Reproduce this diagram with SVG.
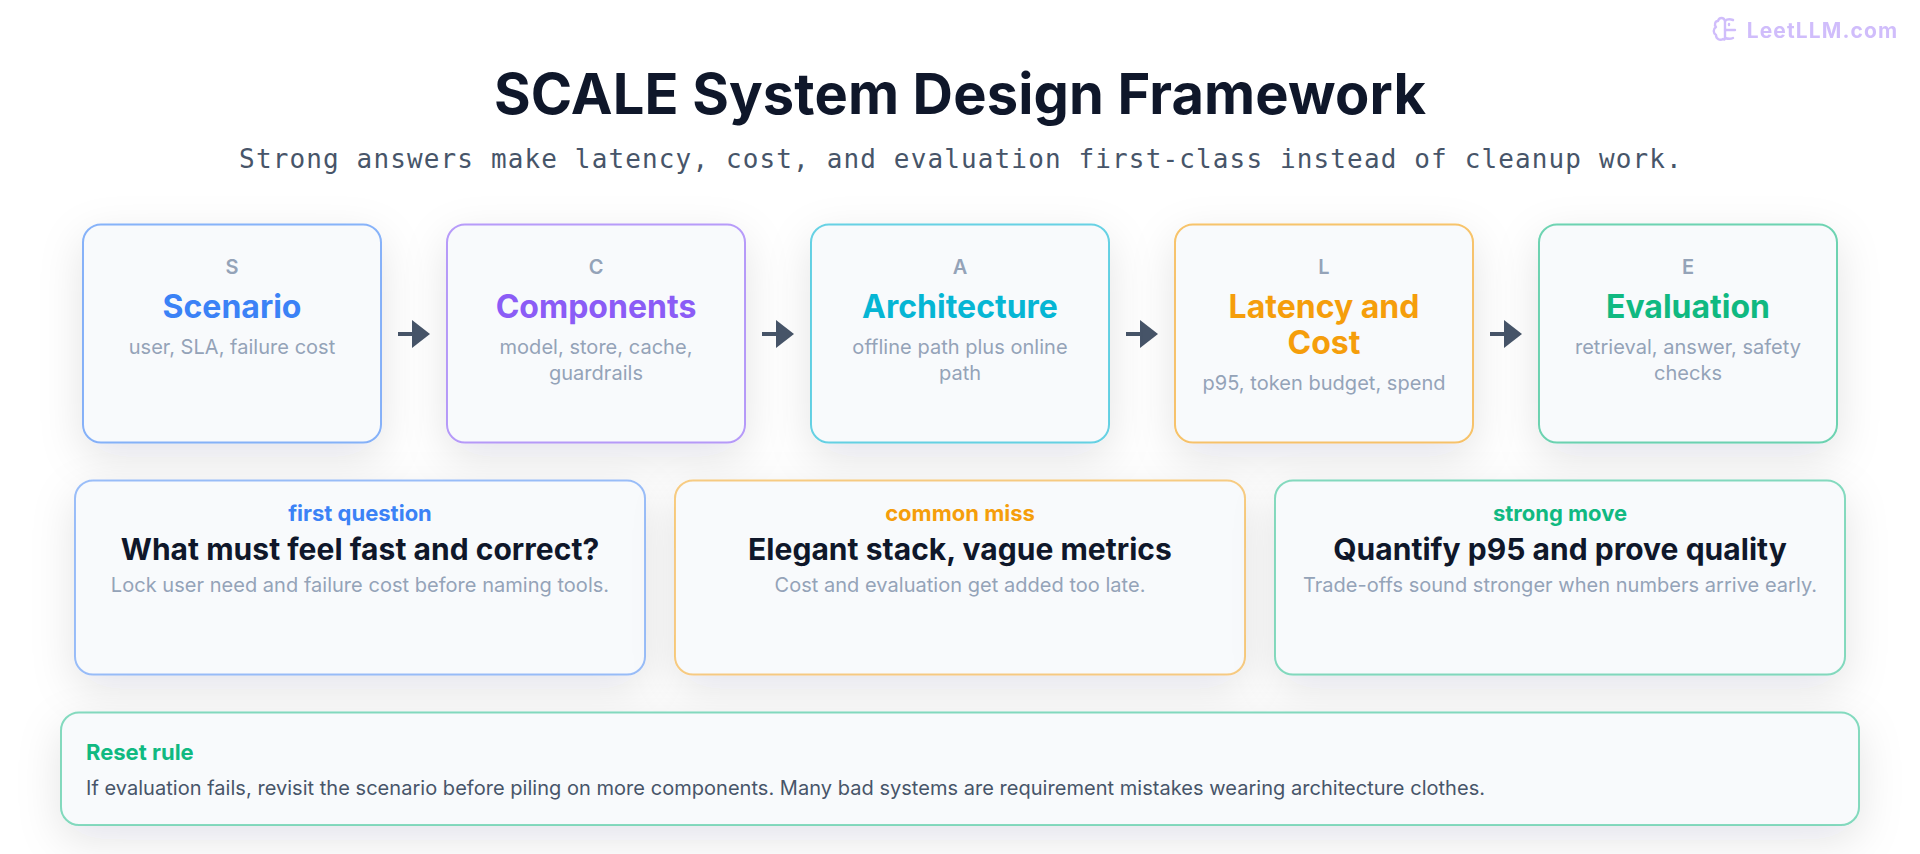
<svg xmlns="http://www.w3.org/2000/svg" width="1920" height="854" viewBox="0 0 1920 854">
<defs>
<filter id="sh" x="-20%" y="-30%" width="140%" height="180%"><feDropShadow dx="0" dy="14" stdDeviation="22" flood-color="#0f172a" flood-opacity="0.11"/></filter>
<marker id="ah" markerUnits="userSpaceOnUse" markerWidth="20" markerHeight="30" refX="0" refY="14" orient="auto"><path d="M0 0L18 14L0 28Z" fill="#475569"/></marker>
</defs>
<style>
text{font-family:Inter,"Noto Sans",sans-serif;text-anchor:middle}
.card{fill:#f8fafc;stroke-width:2;filter:url(#sh)}
.r1{stroke-opacity:.6}
.r2{stroke-opacity:.5}
.let{font-size:20px;font-weight:600;fill:#94a3b8}
.name{font-size:32px;font-weight:700}
.desc{font-size:20px;fill:#94a3b8;letter-spacing:.03px}
.kick{font-size:22px;font-weight:700}
.head{font-size:30px;font-weight:700;fill:#0f172a;letter-spacing:.03px}
.conn{stroke:#475569;stroke-width:4;fill:none;marker-end:url(#ah)}
</style>
<rect width="1920" height="854" fill="#fff"/>
<g id="watermark" opacity="0.4">
<g fill="none" stroke="#8b5cf6" stroke-width="2.4" stroke-linecap="round" stroke-linejoin="round"><path d="M1725 21c-1-4-6-4-7 0c-3 0-4 4-2 6c-3 2-3 6 0 8c0 4 4 6 7 4c1 1 2 1 2-1V21z"/><path d="M1725 21c2-2 5-2 8-1M1725 30h10M1725 38c3 1 6 1 8 0M1729 24v1"/></g>
<text x="1822.500" y="38" style="font-size:21px;font-weight:700;letter-spacing:1.1px" fill="#8b5cf6">LeetLLM.com</text>
</g>
<text id="title" x="960" y="114" style="font-size:56px;font-weight:700;letter-spacing:.14px" fill="#0f172a">SCALE System Design Framework</text>
<text id="subtitle" x="961" y="168" style="font-family:'DejaVu Sans Mono',monospace;font-size:26px;letter-spacing:1.135px" fill="#475569">Strong answers make latency, cost, and evaluation first-class instead of cleanup work.</text>
<g id="connectors">
<path class="conn" d="M398 334H412"/><path class="conn" d="M762 334H776"/><path class="conn" d="M1126 334H1140"/><path class="conn" d="M1490 334H1504"/>
</g>
<g id="node-s"><rect class="card r1" x="83" y="224.500" width="298" height="218" rx="18" stroke="#3b82f6"/><text class="let" x="232" y="273.500">S</text><text class="name" x="232" y="318" fill="#3b82f6">Scenario</text><text class="desc" x="232" y="354">user, SLA, failure cost</text></g>
<g id="node-c"><rect class="card r1" x="447" y="224.500" width="298" height="218" rx="18" stroke="#8b5cf6"/><text class="let" x="596" y="273.500">C</text><text class="name" x="596" y="318" fill="#8b5cf6">Components</text><text class="desc" x="596" y="354">model, store, cache,</text><text class="desc" x="596" y="380">guardrails</text></g>
<g id="node-a"><rect class="card r1" x="811" y="224.500" width="298" height="218" rx="18" stroke="#06b6d4"/><text class="let" x="960" y="273.500">A</text><text class="name" x="960" y="318" fill="#06b6d4">Architecture</text><text class="desc" x="960" y="354">offline path plus online</text><text class="desc" x="960" y="380">path</text></g>
<g id="node-l"><rect class="card r1" x="1175" y="224.500" width="298" height="218" rx="18" stroke="#f59e0b"/><text class="let" x="1324" y="273.500">L</text><text class="name" x="1324" y="318" fill="#f59e0b">Latency and</text><text class="name" x="1324" y="353.500" fill="#f59e0b">Cost</text><text class="desc" x="1324" y="390">p95, token budget, spend</text></g>
<g id="node-e"><rect class="card r1" x="1539" y="224.500" width="298" height="218" rx="18" stroke="#10b981"/><text class="let" x="1688" y="273.500">E</text><text class="name" x="1688" y="318" fill="#10b981">Evaluation</text><text class="desc" x="1688" y="354">retrieval, answer, safety</text><text class="desc" x="1688" y="380">checks</text></g>
<g id="node-first"><rect class="card r2" x="75" y="480.500" width="570" height="194" rx="18" stroke="#3b82f6"/><text class="kick" x="360" y="521" fill="#3b82f6">first question</text><text class="head" x="360" y="560">What must feel fast and correct?</text><text class="desc" x="360" y="592">Lock user need and failure cost before naming tools.</text></g>
<g id="node-miss"><rect class="card r2" x="675" y="480.500" width="570" height="194" rx="18" stroke="#f59e0b"/><text class="kick" x="960" y="521" fill="#f59e0b">common miss</text><text class="head" x="960" y="560">Elegant stack, vague metrics</text><text class="desc" x="960" y="592">Cost and evaluation get added too late.</text></g>
<g id="node-strong"><rect class="card r2" x="1275" y="480.500" width="570" height="194" rx="18" stroke="#10b981"/><text class="kick" x="1560" y="521" fill="#10b981">strong move</text><text class="head" x="1560" y="560">Quantify p95 and prove quality</text><text class="desc" x="1560" y="592">Trade-offs sound stronger when numbers arrive early.</text></g>
<g id="node-reset"><rect class="card r2" x="61" y="712.500" width="1798" height="112.500" rx="18" stroke="#10b981"/><text x="86" y="760" style="text-anchor:start;font-size:22px;font-weight:700" fill="#10b981">Reset rule</text><text x="86" y="795" style="text-anchor:start;font-size:20px;letter-spacing:.033px" fill="#475569">If evaluation fails, revisit the scenario before piling on more components. Many bad systems are requirement mistakes wearing architecture clothes.</text></g>
</svg>
